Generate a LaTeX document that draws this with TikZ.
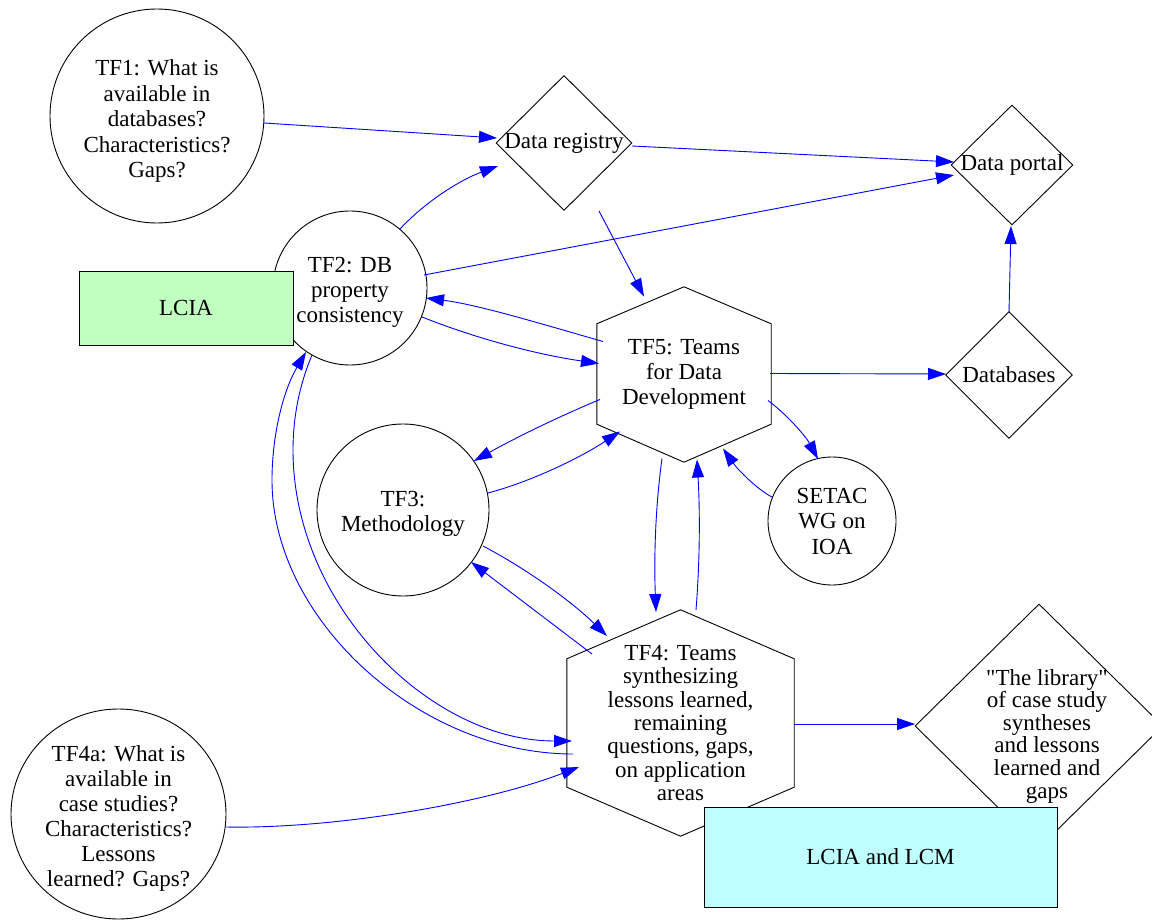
\documentclass[tikz,border=0pt]{standalone}
\usepackage{fontspec}
\setmainfont{Liberation Serif}[Ligatures=TeXOff]
\usetikzlibrary{shapes.geometric,arrows.meta,calc}
\definecolor{lgreen}{RGB}{192,255,192}
\definecolor{lcyan}{RGB}{192,255,255}
\tikzset{
  txt/.style={font=\fontsize{23}{25}\selectfont, align=center, inner sep=0pt},
  shp/.style={draw=black, line width=0.9pt},
  circ/.style={shp, ellipse, inner sep=0pt},
  dia/.style={shp, diamond, inner sep=0pt},
  hexbox/.style={rectangle, inner sep=0pt, txt},
  box/.style={shp, rectangle, inner sep=0pt, txt},
  edge/.style={draw=blue, line width=0.9pt, -{Triangle[length=18pt,width=12pt]}}
}
\begin{document}
\begin{tikzpicture}[x=1pt, y=-1pt]
\useasboundingbox (0,0) rectangle (1152,920);

% ellipses / circles
\node[circ, minimum width=214pt, minimum height=214pt,
  label={[txt, font=\fontsize{23}{25.5}\selectfont, yshift=-5pt]center:{TF1: What is\\available in\\databases?\\Characteristics?\\Gaps?}}] (tf1) at (157,116) {};
\node[circ, minimum width=154pt, minimum height=154pt,
  label={[txt, yshift=-4pt]center:{TF2: DB\\property\\consistency}}] (tf2) at (350,288) {};
\node[circ, minimum width=172pt, minimum height=172pt,
  label={[txt, font=\fontsize{23}{25.6}\selectfont, yshift=-4pt]center:{TF3:\\Methodology}}] (tf3) at (403,510) {};
\node[circ, minimum width=128pt, minimum height=128pt,
  label={[txt, font=\fontsize{23}{25.5}\selectfont]center:{SETAC\\WG on\\IOA}}] (setac) at (832,521) {};
\node[circ, minimum width=215pt, minimum height=210pt,
  label={[txt, yshift=-4pt]center:{TF4a: What is\\available in\\case studies?\\Characteristics?\\Lessons\\learned? Gaps?}}] (tf4a) at (118.5,814) {};

% diamonds
\node[dia, minimum width=136pt, minimum height=135pt,
  label={[txt]center:{Data registry}}] (dreg) at (564,143) {};
\node[dia, minimum width=122pt, minimum height=120pt,
  label={[txt]center:{Data portal}}] (dportal) at (1012,165) {};
\node[dia, minimum width=127pt, minimum height=127pt,
  label={[txt]center:{Databases}}] (dbs) at (1009,375) {};
\node[dia, minimum width=248pt, minimum height=244pt,
  label={[txt, font=\fontsize{23}{22.6}\selectfont, xshift=8pt, yshift=-10pt]center:{"The library"\\of case study\\syntheses\\and lessons\\learned and\\gaps}}] (lib) at (1039,726) {};

% hexagons
\node[hexbox, minimum width=174pt, minimum height=175pt] (tf5) at (684,374.5) {TF5: Teams\\for Data\\Development};
\draw[shp] (tf5.north) -- ($(tf5.north east)+(0,37)$) -- ($(tf5.south east)+(0,-38)$)
  -- (tf5.south) -- ($(tf5.south west)+(0,-38)$) -- ($(tf5.north west)+(0,37)$) -- cycle;
\node[hexbox, font=\fontsize{23}{23.3}\selectfont, minimum width=227pt, minimum height=226pt] (tf4) at (680.5,723)
  {TF4: Teams\\synthesizing\\lessons learned,\\remaining\\questions, gaps,\\on application\\areas};
\draw[shp] (tf4.north) -- ($(tf4.north east)+(0,49)$) -- ($(tf4.south east)+(0,-49)$)
  -- (tf4.south) -- ($(tf4.south west)+(0,-49)$) -- ($(tf4.north west)+(0,49)$) -- cycle;

% edges
\draw[edge] ($(tf1)+(107,7)$) -- ($(dreg)+(-67,-5)$);
\draw[edge] ($(dreg)+(68,3)$) -- ($(dportal)+(-58,-3)$);
\draw[edge] ($(tf2)+(50,-59)$) .. controls (425,202) and (460,180) .. ($(dreg)+(-66,23)$);
\draw[edge] ($(tf2)+(74,-13)$) -- ($(dportal)+(-58,10)$);
\draw[edge] ($(dreg)+(35,68)$) -- ($(tf5)+(-40,-78)$);
\draw[edge] ($(tf5)+(-81,-33)$) .. controls (545,325) and (480,305) .. ($(tf2)+(76,10)$);
\draw[edge] ($(tf2)+(72,29)$) .. controls (480,340) and (540,355) .. ($(tf5)+(-85,-11)$);
\draw[edge] ($(tf5)+(86,-1)$) -- ($(dbs)+(-63,-1)$);
\draw[edge] ($(dbs)+(0,-63)$) -- ($(dportal)+(-1,61)$);
\draw[edge] ($(tf5)+(-84,25)$) .. controls (560,416) and (515,438) .. ($(tf3)+(71,-49)$);
\draw[edge] ($(tf3)+(85,-17)$) .. controls (530,482) and (580,458) .. ($(tf5)+(-64,57)$);
\draw[edge] ($(tf5)+(84,26)$) .. controls (785,413) and (805,435) .. ($(setac)+(-14,-62)$);
\draw[edge] ($(setac)+(-60,-24)$) .. controls (758,490) and (738,470) .. ($(tf5)+(39,74)$);
\draw[edge] ($(tf5)+(-22,84)$) .. controls (655,510) and (654,560) .. ($(tf4)+(-24.5,-111)$);
\draw[edge] ($(tf4)+(15.5,-113)$) .. controls (700,560) and (700,510) .. ($(tf5)+(13,85)$);
\draw[edge] ($(tf3)+(80,36)$) .. controls (525,568) and (570,600) .. ($(tf4)+(-73.5,-87)$);
\draw[edge] ($(tf4)+(-88.5,-69)$) -- ($(tf3)+(68,52)$);
\draw[edge] ($(tf2)+(-38,67)$) .. controls (299,386) and (293,418) .. (293,450)
  .. controls (293,605) and (430,741) .. ($(tf4)+(-108.5,18)$);
\draw[edge] ($(tf4)+(-107.5,31)$) .. controls (420,754) and (272,620) .. (272,480)
  .. controls (272,435.5) and (283,391) .. ($(tf2)+(-44,64)$);
\draw[edge] ($(tf4a)+(107.5,13)$) .. controls (330,829) and (480,805) .. ($(tf4)+(-101.5,44)$);
\draw[edge] ($(tf4)+(113.5,1)$) -- ($(lib)+(-124,-2)$);

% rectangles drawn on top
\node[box, fill=lgreen, minimum width=214pt, minimum height=74pt] (lcia) at (186,308) {LCIA};
\node[box, fill=lcyan, minimum width=353pt, minimum height=100pt] (lcm) at (880.5,857) {LCIA and LCM};
\end{tikzpicture}
\end{document}
